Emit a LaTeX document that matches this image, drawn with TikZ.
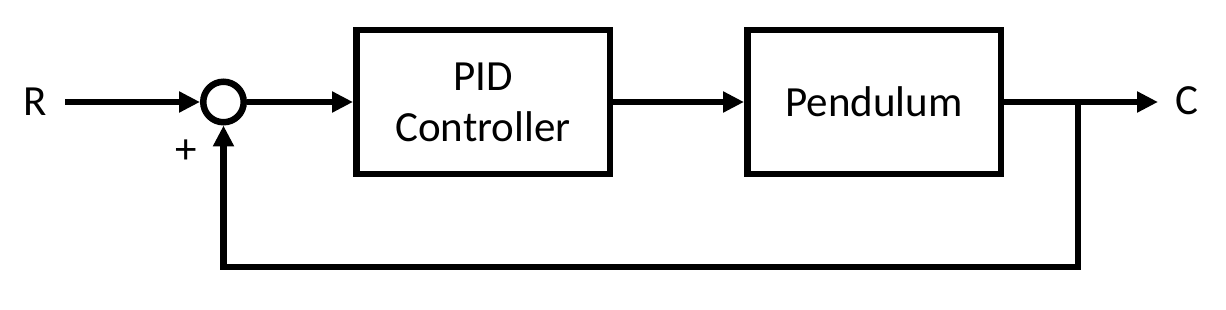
\documentclass[tikz,border=0pt]{standalone}
\usepackage{fontspec}
\setmainfont{Carlito}
\usetikzlibrary{arrows.meta}
\begin{document}
\begin{tikzpicture}[x=1pt,y=-1pt,
  line width=6.5pt,
  sig/.style={-{Triangle[length=21pt,width=20pt]}},
  block/.style={draw, minimum width=253.5pt, minimum height=143.5pt, inner sep=0pt, align=center, font=\fontsize{43}{51}\selectfont},
  lbl/.style={font=\fontsize{43}{51}\selectfont, inner sep=0pt},
  sumnode/.style={draw, circle, minimum size=40.5pt, inner sep=0pt}]
\useasboundingbox (0,0) rectangle (1226,310);
\node[lbl] (R) at (35,101.5) {R};
\node[lbl] (plus) at (186,152) {+};
\node[sumnode] (sum) at (223.5,102) {};
\node[block] (pid) at (483,102) {PID\\Controller};
\node[block] (pend) at (874,102) {Pendulum};
\node[lbl] (C) at (1187,101) {C};
\coordinate (rin) at (65,102);
\coordinate (cout) at (1158,102);
\coordinate (br) at (1078,102);
\coordinate (fb) at (1078,267);
\draw[sig] (rin) -- (sum);
\draw[sig] (sum) -- (pid);
\draw[sig] (pid) -- (pend);
\draw[sig] (pend) -- (cout);
\draw[sig] (br) -- (fb) -| (sum.south);
\end{tikzpicture}
\end{document}
